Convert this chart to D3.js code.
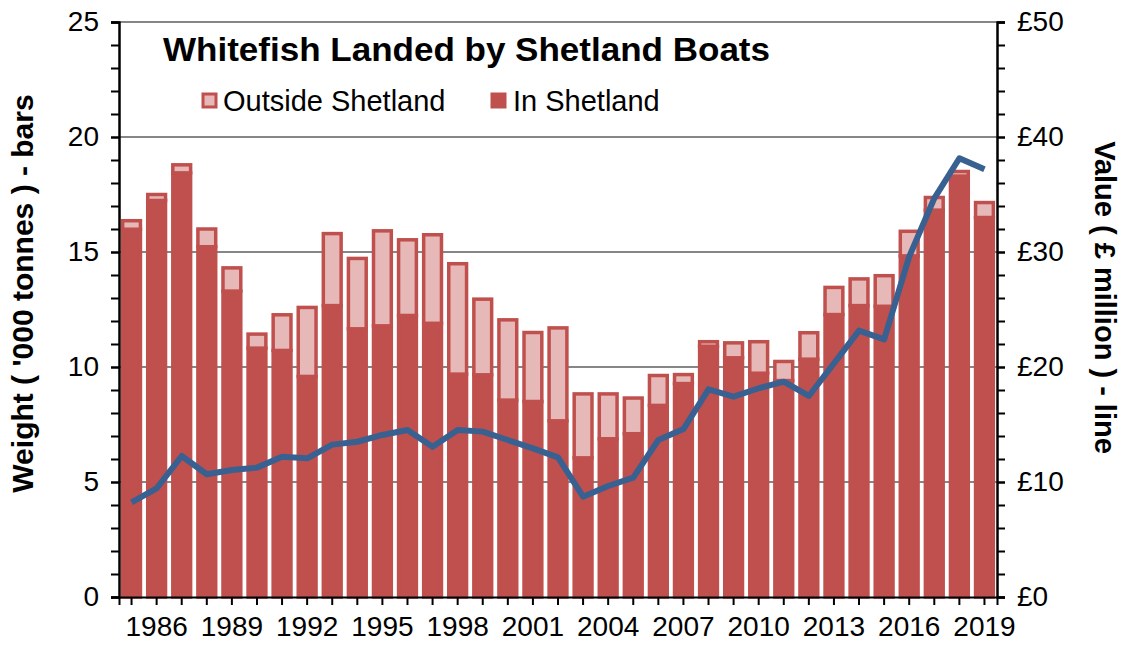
<!DOCTYPE html>
<html>
<head>
<meta charset="utf-8">
<script src="https://cdn.jsdelivr.net/npm/d3@7"></script>
<style>
html,body{margin:0;padding:0;background:#fff;}
svg{display:block;font-family:"Liberation Sans",Arial,sans-serif;}
</style>
</head>
<body>
<svg id="chart" width="1127" height="646"></svg>
<script>
const years = d3.range(1985, 2020);
const inShetland = [15.99, 17.24, 18.44, 15.23, 13.3, 10.82, 10.72, 9.59, 12.67, 11.66, 11.79, 12.24, 11.9, 9.69, 9.66, 8.56, 8.5, 7.66, 6.05, 6.88, 7.1, 8.33, 9.28, 10.9, 10.4, 9.73, 9.41, 10.34, 12.28, 12.67, 12.64, 14.83, 16.82, 18.3, 16.5];
const outsideShetland = [0.37, 0.26, 0.35, 0.77, 1.01, 0.61, 1.55, 3.0, 3.13, 3.06, 4.13, 3.29, 3.85, 4.8, 3.29, 3.49, 3.0, 4.04, 2.78, 1.95, 1.55, 1.3, 0.39, 0.2, 0.65, 1.37, 0.83, 1.15, 1.18, 1.16, 1.33, 1.07, 0.55, 0.2, 0.65];
const valueMillion = [8.23, 9.45, 12.26, 10.67, 11.04, 11.25, 12.2, 12.06, 13.25, 13.5, 14.09, 14.52, 13.07, 14.52, 14.38, 13.65, 12.93, 12.14, 8.72, 9.65, 10.38, 13.65, 14.6, 18.06, 17.42, 18.15, 18.72, 17.48, 20.32, 23.16, 22.4, 29.6, 34.67, 38.15, 37.19];
const xTickLabels = [1986, 1989, 1992, 1995, 1998, 2001, 2004, 2007, 2010, 2013, 2016, 2019];
const leftTicks = [0, 5, 10, 15, 20, 25];
const rightTicks = [0, 10, 20, 30, 40, 50];

const svg = d3.select("#chart");
const L = 119, R = 997, T = 22, B = 597;

const x = d3.scaleBand().domain(years).range([L, R]).paddingInner(0).paddingOuter(0);
const yL = d3.scaleLinear().domain([0, 25]).range([B, T]);
const yR = d3.scaleLinear().domain([0, 50]).range([B, T]);

const red = "#C0504D", pink = "#E6B9B8", grid = "#868686", blue = "#386192";
const FONT = "Liberation Sans, Arial, sans-serif";

// gridlines
svg.append("g").selectAll("line").data(leftTicks.filter(d => d > 0)).join("line")
  .attr("x1", L).attr("x2", R).attr("y1", d => yL(d)).attr("y2", d => yL(d))
  .attr("stroke", grid).attr("stroke-width", 2);

// bars
const bw = 17.8, sw = 3.5;
const bars = svg.append("g");
years.forEach((yr, i) => {
  const cx = x(yr) + x.bandwidth() / 2;
  const inV = inShetland[i], outV = outsideShetland[i];
  bars.append("rect")
    .attr("x", cx - bw / 2).attr("width", bw)
    .attr("y", yL(inV)).attr("height", yL(0) - yL(inV))
    .attr("fill", red).attr("stroke", red).attr("stroke-width", sw);
  bars.append("rect")
    .attr("x", cx - bw / 2).attr("width", bw)
    .attr("y", yL(inV + outV)).attr("height", yL(inV) - yL(inV + outV))
    .attr("fill", pink).attr("stroke", red).attr("stroke-width", sw);
});

// line
const line = d3.line().x((d, i) => x(years[i]) + x.bandwidth() / 2).y(d => yR(d));
svg.append("path").datum(valueMillion).attr("d", line)
  .attr("fill", "none").attr("stroke", blue).attr("stroke-width", 6)
  .attr("stroke-linejoin", "round").attr("stroke-linecap", "butt");

// left axis
const gL = svg.append("g").attr("transform", `translate(${L},0)`);
gL.call(d3.axisLeft(yL).tickValues(d3.range(0, 26, 1)).tickSize(8).tickFormat(""));
gL.append("g").call(d3.axisLeft(yL).tickValues(leftTicks).tickSize(8).tickPadding(12).tickFormat(d3.format("d")));
gL.selectAll(".domain").attr("stroke", "#000").attr("stroke-width", 2);
gL.selectAll(".tick line").attr("stroke", "#000").attr("stroke-width", 2);
gL.selectAll(".tick text").attr("font-size", 28).attr("fill", "#000").attr("font-family", FONT);

// right axis
const gR = svg.append("g").attr("transform", `translate(${R},0)`);
gR.call(d3.axisRight(yR).tickValues(d3.range(0, 51, 2)).tickSize(8).tickFormat(""));
gR.append("g").call(d3.axisRight(yR).tickValues(rightTicks).tickSize(8).tickPadding(12).tickFormat(d => "£" + d));
gR.selectAll(".domain").attr("stroke", "#000").attr("stroke-width", 2);
gR.selectAll(".tick line").attr("stroke", "#000").attr("stroke-width", 2);
gR.selectAll(".tick text").attr("font-size", 28).attr("fill", "#000").attr("font-family", FONT);

// bottom axis
const gB = svg.append("g").attr("transform", `translate(0,${B})`);
gB.call(d3.axisBottom(x).tickSize(8).tickPadding(11).tickFormat(d => xTickLabels.includes(d) ? d : ""));
gB.selectAll(".domain").attr("stroke", "#000").attr("stroke-width", 2);
gB.selectAll(".tick line").attr("stroke", "#000").attr("stroke-width", 2);
gB.selectAll(".tick text").attr("font-size", 28).attr("fill", "#000").attr("font-family", FONT);

// axis titles
svg.append("text").attr("transform", `translate(33,${(T + B) / 2 - 16}) rotate(-90)`)
  .attr("text-anchor", "middle").attr("font-size", 30).attr("font-weight", "bold")
  .text("Weight ( '000 tonnes ) - bars");
svg.append("text").attr("transform", `translate(1095,${(T + B) / 2 - 12}) rotate(90)`)
  .attr("text-anchor", "middle").attr("font-size", 29).attr("font-weight", "bold")
  .text("Value ( £ million ) - line");

// title
svg.append("text").attr("x", 163).attr("y", 61).attr("font-size", 34).attr("font-weight", "bold")
  .attr("textLength", 607).attr("lengthAdjust", "spacingAndGlyphs")
  .text("Whitefish Landed by Shetland Boats");

// legend
const leg = svg.append("g");
leg.append("rect").attr("x", 203).attr("y", 94).attr("width", 13).attr("height", 13)
  .attr("fill", pink).attr("stroke", red).attr("stroke-width", 3);
leg.append("text").attr("x", 223).attr("y", 111).attr("font-size", 29).text("Outside Shetland");
leg.append("rect").attr("x", 492).attr("y", 94).attr("width", 13).attr("height", 13)
  .attr("fill", red).attr("stroke", red).attr("stroke-width", 3);
leg.append("text").attr("x", 513).attr("y", 111).attr("font-size", 29).text("In Shetland");
</script>
</body>
</html>
